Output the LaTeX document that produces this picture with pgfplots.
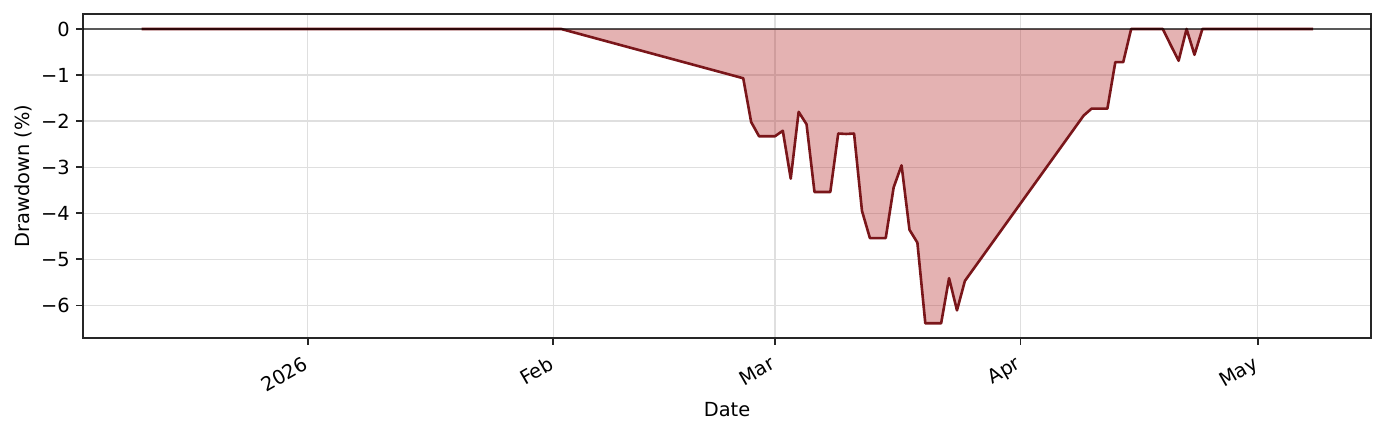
\documentclass[border=0pt]{standalone}
\usepackage{fontspec}
\setmainfont{DejaVu Sans}
\usepackage{pgfplots}
\pgfplotsset{compat=1.18}
\definecolor{ddline}{RGB}{122,22,26}
\definecolor{ddfill}{RGB}{178,34,34}

% x = days since 2026-01-01
\pgfplotstableread{
day dd
-21 0
32 0
55 -1.07
56 -2.02
57 -2.33
58 -2.33
59 -2.33
60 -2.21
61 -3.25
62 -1.80
63 -2.07
64 -3.54
65 -3.54
66 -3.54
67 -2.27
68 -2.28
69 -2.27
70 -3.95
71 -4.54
72 -4.54
73 -4.54
74 -3.44
75 -2.96
76 -4.36
77 -4.64
78 -6.39
79 -6.39
80 -6.39
81 -5.41
82 -6.11
83 -5.47
98 -1.88
99 -1.73
100 -1.73
101 -1.73
102 -0.72
103 -0.72
104 0
108 0
109 -0.35
110 -0.69
111 0
112 -0.56
113 0
127 0
}\drawdown

\begin{document}
\fontsize{9.7}{11.6}\selectfont
\begin{tikzpicture}
\begin{axis}[
  at={(0,0)}, anchor=south west,
  width=644pt, height=162pt, scale only axis,
  xmin=-28.4, xmax=134.3,
  ymin=-6.71, ymax=0.325,
  axis line style={black!85, line width=0.8pt},
  tick style={black!85, line width=0.8pt},
  tick align=outside, major tick length=3.4pt,
  xtick={0,31,59,90,120},
  xticklabels={2026,Feb,Mar,Apr,May},
  ytick={-6,-5,-4,-3,-2,-1,0},
  yticklabels={−6,−5,−4,−3,−2,−1,0},
  xtick pos=bottom, ytick pos=left,
  xticklabel style={rotate=30, anchor=north east, inner sep=0pt, xshift=-5pt, yshift=-3pt},
  yticklabel style={anchor=east, inner sep=0pt, xshift=-3pt},
  grid=major,
  grid style={gray!25, line width=0.6pt},
  xlabel={Date},
  ylabel={Drawdown (\%)},
  x label style={at={(axis description cs:0.5,-0.222)}, anchor=center},
  y label style={at={(axis description cs:-0.0466,0.5)}, anchor=center},
  /pgf/number format/assume math mode=true,
]
\addplot[draw=none, fill=ddfill, fill opacity=0.35] table[x=day, y=dd] {\drawdown} -- cycle;
\addplot[ddline, line width=1.3pt, line join=round] table[x=day, y=dd] {\drawdown};
\addplot[black, opacity=0.6, line width=0.7pt] coordinates {(-28.4,0) (134.3,0)};
\end{axis}
\pgfresetboundingbox
\path[use as bounding box] (-41.5pt,-48pt) rectangle (651.5pt,169pt);
\end{tikzpicture}
\end{document}
